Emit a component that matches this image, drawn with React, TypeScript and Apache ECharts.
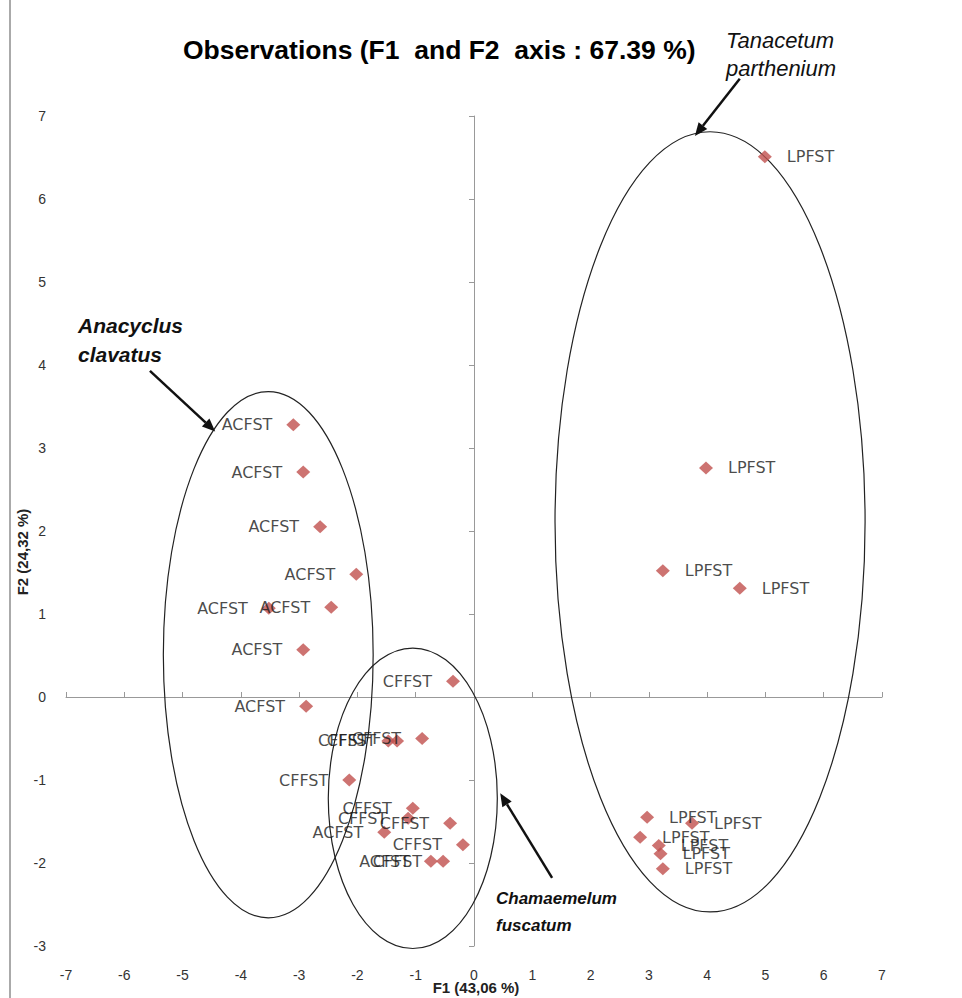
import React, { useEffect, useRef } from "react";
import * as echarts from "echarts";

// Observations (F1, F2)
const acfstPoints: number[][] = [
  [-3.1, 3.28], [-2.93, 2.71], [-2.64, 2.05], [-2.02, 1.48], [-2.45, 1.08],
  [-3.52, 1.07], [-2.93, 0.57], [-2.88, -0.11], [-1.54, -1.63], [-0.74, -1.98],
];
const cffstPoints: number[][] = [
  [-0.36, 0.19], [-1.47, -0.53], [-1.32, -0.53], [-0.89, -0.5], [-2.14, -1.0],
  [-1.05, -1.34], [-1.13, -1.46], [-0.41, -1.52], [-0.19, -1.78], [-0.53, -1.98],
];
const lpfstPoints: number[][] = [
  [4.99, 6.51], [3.98, 2.76], [3.24, 1.52], [4.56, 1.31], [2.97, -1.45],
  [3.74, -1.52], [2.85, -1.69], [3.17, -1.79], [3.2, -1.89], [3.24, -2.07],
];
// group ellipses: centre x, centre y, radius x, radius y (data units)
const groupEllipses: number[][] = [
  [-3.53, 0.51, 1.8, 3.17],
  [-1.05, -1.22, 1.45, 1.81],
  [4.05, 2.11, 2.66, 4.7],
];
// arrows: from x, from y, to x, to y (data units)
const groupArrows: number[][] = [
  [-5.56, 3.93, -4.44, 3.2],
  [4.56, 7.45, 3.79, 6.76],
  [1.34, -2.18, 0.45, -1.16],
];
const titleText = "Observations (F1  and F2  axis : 67.39 %)";
const xName = "F1 (43,06 %)";
const yName = "F2 (24,32 %)";

export default function App() {
  const ref = useRef<HTMLDivElement>(null);
  useEffect(() => {
    if (!ref.current) return;
    const chart = echarts.init(ref.current, null, { renderer: "svg" });
    const tickLabel = { fontSize: 14, color: "#333", fontFamily: "Liberation Sans" };
    const nameStyle = { fontSize: 15, fontWeight: "bold", fontFamily: "Liberation Sans", fill: "#222" };
    const pointLabel = (pos: string, dist: number) => ({
      show: true,
      formatter: "{a}",
      position: pos,
      distance: dist,
      fontSize: 16,
      fontFamily: "DejaVu Sans",
      color: "#1a1a1a",
    });
    const sym = { symbol: "diamond", symbolSize: [14, 13], itemStyle: { color: "#c0504d" } };
    chart.setOption({
      animation: false,
      title: {
        text: titleText,
        left: 178,
        top: 31,
        textStyle: { fontSize: 26.5, fontWeight: "bold", fontFamily: "Liberation Sans", color: "#000" },
      },
      grid: { left: 66, right: 80, top: 116, bottom: 52, outerBoundsMode: "none", containLabel: false },
      xAxis: [
        {
          type: "value", min: -7, max: 7, interval: 1,
          axisLine: { show: false, onZero: false }, axisTick: { show: false }, splitLine: { show: false },
          axisLabel: { ...tickLabel, margin: 22 },
        },
        {
          type: "value", min: -7, max: 7, interval: 1, position: "bottom",
          axisLine: { show: true, onZero: true, onZeroAxisIndex: 0, lineStyle: { color: "#999", width: 1 } },
          axisTick: { show: true, inside: true, length: 5, lineStyle: { color: "#999" } },
          axisLabel: { show: false }, splitLine: { show: false },
        },
      ],
      yAxis: [
        {
          type: "value", min: -3, max: 7, interval: 1,
          axisLine: { show: false, onZero: false }, axisTick: { show: false }, splitLine: { show: false },
          axisLabel: { ...tickLabel, margin: 20 },
        },
        {
          type: "value", min: -3, max: 7, interval: 1, position: "left",
          axisLine: { show: true, onZero: true, onZeroAxisIndex: 0, lineStyle: { color: "#999", width: 1 } },
          axisTick: { show: true, length: 5, lineStyle: { color: "#999" } },
          axisLabel: { show: false }, splitLine: { show: false },
        },
      ],
      series: [
        {
          type: "custom", name: "ellipses", xAxisIndex: 0, yAxisIndex: 0, silent: true,
          data: groupEllipses, encode: { x: 0, y: 1 }, z: 1,
          renderItem: (params: any, api: any) => {
            const c = api.coord([api.value(0), api.value(1)]);
            const s = api.size([api.value(2), api.value(3)]);
            return {
              type: "ellipse",
              shape: { cx: c[0], cy: c[1], rx: s[0], ry: s[1] },
              style: { fill: "none", stroke: "#222", lineWidth: 1.2 },
            };
          },
        },
        {
          type: "custom", name: "arrows", xAxisIndex: 0, yAxisIndex: 0, silent: true,
          data: groupArrows, encode: { x: 0, y: 1 }, z: 1,
          renderItem: (params: any, api: any) => {
            const p1 = api.coord([api.value(0), api.value(1)]);
            const p2 = api.coord([api.value(2), api.value(3)]);
            const dx = p2[0] - p1[0], dy = p2[1] - p1[1];
            const len = Math.sqrt(dx * dx + dy * dy);
            const ux = dx / len, uy = dy / len;
            const hl = 13, hw = 5.5;
            const bx = p2[0] - ux * hl, by = p2[1] - uy * hl;
            return {
              type: "group",
              children: [
                {
                  type: "line",
                  shape: { x1: p1[0], y1: p1[1], x2: bx, y2: by },
                  style: { stroke: "#111", lineWidth: 2.5 },
                },
                {
                  type: "polygon",
                  shape: {
                    points: [
                      [p2[0], p2[1]],
                      [bx - uy * hw, by + ux * hw],
                      [bx + uy * hw, by - ux * hw],
                    ],
                  },
                  style: { fill: "#111" },
                },
              ],
            };
          },
        },
        { type: "scatter", name: "ACFST", data: acfstPoints, ...sym, label: pointLabel("left", 14), z: 3 },
        { type: "scatter", name: "CFFST", data: cffstPoints, ...sym, label: pointLabel("left", 14), z: 3 },
        { type: "scatter", name: "LPFST", data: lpfstPoints, ...sym, label: pointLabel("right", 15), z: 3 },
      ],
      graphic: [
        {
          type: "line", shape: { x1: 10, y1: 0, x2: 10, y2: 998 },
          style: { stroke: "#aaa", lineWidth: 2 },
        },
        {
          type: "text", x: 476, y: 987,
          style: { text: xName, ...nameStyle, textAlign: "center", textVerticalAlign: "middle" },
        },
        {
          type: "text", x: 22, y: 552, rotation: Math.PI / 2,
          style: { text: yName, ...nameStyle, textAlign: "center", textVerticalAlign: "middle" },
        },
        {
          type: "text", left: 726, top: 26,
          style: {
            text: "Tanacetum\nparthenium", fontSize: 22, fontStyle: "italic",
            fontFamily: "Liberation Sans", fill: "#111", lineHeight: 28,
          },
        },
        {
          type: "text", left: 78, top: 311,
          style: {
            text: "Anacyclus\nclavatus", fontSize: 21, fontStyle: "italic", fontWeight: "bold",
            fontFamily: "Liberation Sans", fill: "#111", lineHeight: 29,
          },
        },
        {
          type: "text", left: 496, top: 885,
          style: {
            text: "Chamaemelum\nfuscatum", fontSize: 17, fontStyle: "italic", fontWeight: "bold",
            fontFamily: "Liberation Sans", fill: "#111", lineHeight: 27,
          },
        },
      ],
    });
    return () => chart.dispose();
  }, []);
  return (
    <div
      ref={ref}
      style={{ position: "fixed", left: 0, top: 0, width: 962, height: 998, background: "#fff" }}
    />
  );
}
